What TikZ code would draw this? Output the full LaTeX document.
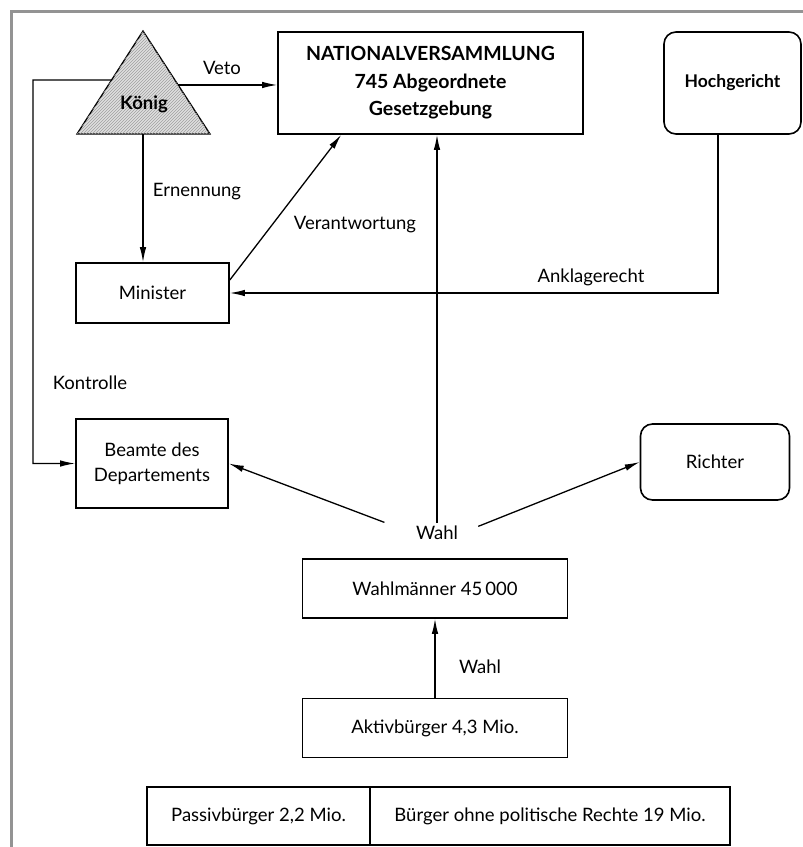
\documentclass[tikz,border=0pt]{standalone}
\usepackage{fontspec}
\setmainfont{Lato}
\usetikzlibrary{arrows.meta,calc,patterns}

\begin{document}
\begin{tikzpicture}
    [x=1pt,y=-1pt,
     pre/.style={<-,>={Latex[length=15pt,width=6.5pt]},line width=1.3pt},
     box/.style={draw=black,line width=1.6pt,align=center,inner sep=0pt,
       font=\fontsize{18.5}{25}\selectfont},
     lbl/.style={font=\fontsize{18.5}{20}\selectfont}]
    \useasboundingbox (0,0) rectangle (803,847);
    \clip (0,0) rectangle (803,847);
    \draw [line width=3.5pt,draw=gray!85] (11.5,11.5) rectangle (840,880);
    % Koenig
    \coordinate (apex) at (143,31);
    \coordinate (bl) at (77,134);
    \coordinate (br) at (210,134);
    \coordinate (bm) at (143,134);
    \draw [line width=1.3pt,fill=gray!25,
      postaction={pattern=north east lines,pattern color=gray!75}]
      (apex) -- (bl) -- (br) -- cycle;
    \node [font=\bfseries\fontsize{18.5}{20}\selectfont] (K) at (144,104) {König};
    \coordinate (kstart) at ($(apex)!0.476!(bl)$);
    \coordinate (vstart) at ($(apex)!0.524!(br)$);
    % Kaesten
    \node [box,font=\bfseries\fontsize{19.5}{27.5}\selectfont,minimum width=305,minimum height=102]
      (N) at (430.5,83) {NATIONALVERSAMMLUNG\\745 Abgeordnete\\Gesetzgebung};
    \node [box,rounded corners=12pt,font=\bfseries\fontsize{17.5}{20}\selectfont,
      minimum width=137,minimum height=102] (H) at (732.5,83) {Hochgericht};
    \node [box,minimum width=153,minimum height=60] (M) at (152.5,293) {Minister};
    \node [box,minimum width=152,minimum height=89] (B) at (152,463.5) {Beamte des\\Departements};
    \node [box,rounded corners=12pt,minimum width=149,minimum height=76] (R) at (715,462) {Richter};
    \node [box,minimum width=265,minimum height=59] (A) at (435,728) {Aktivbürger 4,3 Mio.};
    \node [box,minimum width=265,minimum height=59] (WM) at (435,588.5) {Wahlmänner 45\,000}
      edge [pre] (A);
    \node [box,minimum width=223,minimum height=58] (P) at (258.5,816) {Passivbürger 2,2 Mio.};
    \node [box,minimum width=360,minimum height=58] (O) at (550,816) {Bürger ohne politische Rechte 19 Mio.};
    \node [lbl] (W) at (437,533) {Wahl};
    % Verbindungen
    \coordinate (kb) at (33,80);
    \coordinate (ankl) at (718,293);
    \draw [pre] (vstart -| N.west) -- (vstart);
    \draw [pre] (B.west) -| (kb) -- (kstart);
    \draw [pre] (bm |- M.north) -- (bm);
    \draw [pre] ($(N.south west)+(64,0)$) -- ($(M.east)+(0,-13)$);
    \draw [pre] (M.east) -- (ankl) -- (ankl |- H.south);
    \draw [pre] (W.north |- N.south) -- (W.north);
    \draw [pre,shorten >=30pt] (B.east) -- (W.west);
    \draw [pre,shorten >=18pt] (R.west) -- (W.east);
    % Beschriftungen
    \node [lbl] (veto) at (222,68) {Veto};
    \node [lbl] (ern) at (197,192) {Ernennung};
    \node [lbl] (verant) at (355,225) {Verantwortung};
    \node [lbl] (anklage) at (591,277) {Anklagerecht};
    \node [lbl] (kontr) at (90,383) {Kontrolle};
    \node [lbl] (wahl2) at (480,667) {Wahl};
\end{tikzpicture}
\end{document}
